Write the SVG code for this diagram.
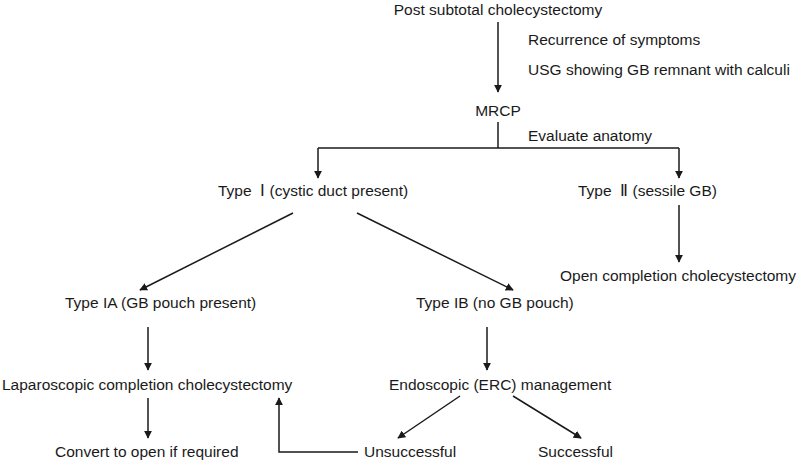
<svg xmlns="http://www.w3.org/2000/svg" width="797" height="460" viewBox="0 0 797 460">
<style>
text{font-family:"Liberation Sans",Arial,sans-serif;font-size:15.5px;fill:#1a1a1a}
.c{stroke:#1a1a1a;stroke-width:1.5;fill:none}
</style>
<defs><marker id="a" viewBox="0 0 10 10" refX="9" refY="5" markerWidth="8" markerHeight="8" markerUnits="userSpaceOnUse" orient="auto"><path d="M0,0L10,5L0,10z" fill="#1a1a1a"/></marker></defs>
<rect width="797" height="460" fill="#fff"/>
<g id="connectors">
<path class="c" d="M498,22V92" marker-end="url(#a)"/>
<path class="c" d="M498,122V148"/>
<path class="c" d="M318,148H679"/>
<path class="c" d="M318,148V178" marker-end="url(#a)"/>
<path class="c" d="M679,148V178" marker-end="url(#a)"/>
<path class="c" d="M679,205V262" marker-end="url(#a)"/>
<path class="c" d="M293,213L140,290" marker-end="url(#a)"/>
<path class="c" d="M357,213L513,290" marker-end="url(#a)"/>
<path class="c" d="M148,327V370" marker-end="url(#a)"/>
<path class="c" d="M487,327V370" marker-end="url(#a)"/>
<path class="c" d="M148,398V438" marker-end="url(#a)"/>
<path class="c" d="M460,396L398,438" marker-end="url(#a)"/>
<path class="c" d="M513,396L581,438" marker-end="url(#a)"/>
<path class="c" d="M358,452H279V398" marker-end="url(#a)"/>
</g>
<g id="n0"><text x="498" y="15" text-anchor="middle">Post subtotal cholecystectomy</text></g>
<g id="lbl1"><text x="528" y="45">Recurrence of symptoms</text><text x="528" y="75">USG showing GB remnant with calculi</text></g>
<g id="n1"><text x="498" y="116" text-anchor="middle">MRCP</text></g>
<g id="lbl2"><text x="528" y="141">Evaluate anatomy</text></g>
<g id="n2"><text x="218" y="196" xml:space="preserve">Type  Ⅰ (cystic duct present)</text></g>
<g id="n3"><text x="578" y="196" xml:space="preserve">Type  Ⅱ (sessile GB)</text></g>
<g id="n4"><text x="678" y="281" text-anchor="middle">Open completion cholecystectomy</text></g>
<g id="n5"><text x="65" y="308">Type IA (GB pouch present)</text></g>
<g id="n6"><text x="416" y="308">Type IB (no GB pouch)</text></g>
<g id="n7"><text x="2" y="390">Laparoscopic completion cholecystectomy</text></g>
<g id="n8"><text x="389" y="390">Endoscopic (ERC) management</text></g>
<g id="n9"><text x="55" y="457">Convert to open if required</text></g>
<g id="n10"><text x="364" y="457">Unsuccessful</text></g>
<g id="n11"><text x="538" y="457">Successful</text></g>
</svg>
